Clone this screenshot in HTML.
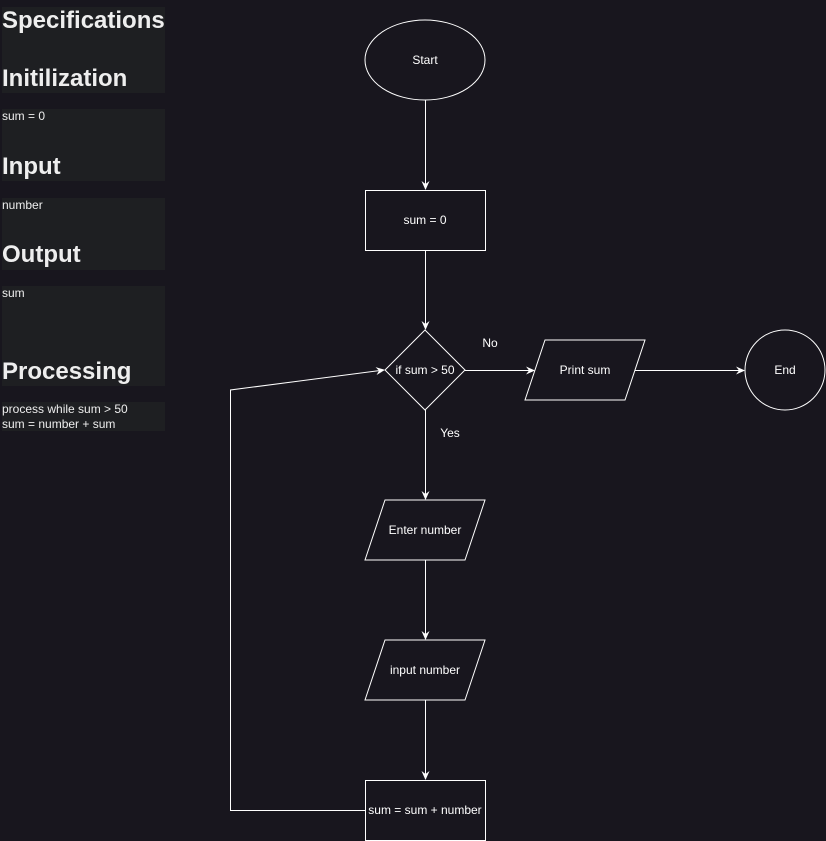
<!DOCTYPE html>
<html><head><style>
body{margin:0;width:826px;height:841px;background:#18161e;overflow:hidden;font-family:"Liberation Sans",sans-serif;}
.p{position:absolute;left:2px;width:163px;background:#1e1f22;color:#eee;}
.h{position:absolute;left:2px;font-weight:bold;font-size:24px;color:#eee;}
.t{position:absolute;left:2px;font-size:12px;color:#eee;line-height:15px;}
</style></head><body>
<div class="p" style="top:7px;height:86px"></div>
<div class="p" style="top:109px;height:72px"></div>
<div class="p" style="top:198px;height:72px"></div>
<div class="p" style="top:286px;height:100px"></div>
<div class="p" style="top:402px;height:29px"></div>
<div class="h" style="top:7px">Specifications</div>
<div class="h" style="top:65px">Initilization</div>
<div class="t" style="top:109px">sum = 0</div>
<div class="h" style="top:153px">Input</div>
<div class="t" style="top:198px">number</div>
<div class="h" style="top:241px">Output</div>
<div class="t" style="top:286px">sum</div>
<div class="h" style="top:358px">Processing</div>
<div class="t" style="top:402px">process while sum &gt; 50<br>sum = number + sum</div>
<svg width="826" height="841" style="position:absolute;left:0;top:0" font-family="Liberation Sans, sans-serif" font-size="12" fill="none" stroke="#fff">
<defs><marker id="a" markerWidth="10" markerHeight="10" refX="8" refY="5" orient="auto" markerUnits="userSpaceOnUse"><path d="M0,1 L9,5 L0,9 L3,5z" fill="#fff" stroke="none"/></marker></defs>
<ellipse cx="425" cy="60" rx="60" ry="40"/>
<rect x="365.5" y="190.5" width="120" height="60"/>
<polygon points="425,330 465,370 425,410 385,370"/>
<polygon points="545,340 645,340 625,400 525,400"/>
<circle cx="785" cy="370" r="40"/>
<polygon points="385,500 485,500 465,560 365,560"/>
<polygon points="385,640 485,640 465,700 365,700"/>
<rect x="365.5" y="780.5" width="120" height="60"/>
<g marker-end="url(#a)">
<line x1="425.5" y1="100" x2="425.5" y2="189"/>
<line x1="425.5" y1="250" x2="425.5" y2="329"/>
<line x1="465" y1="370.5" x2="534" y2="370.5"/>
<line x1="635" y1="370.5" x2="744" y2="370.5"/>
<line x1="425.5" y1="410" x2="425.5" y2="499"/>
<line x1="425.5" y1="560" x2="425.5" y2="639"/>
<line x1="425.5" y1="700" x2="425.5" y2="779"/>
<polyline points="365,810.5 230.5,810.5 230.5,390 384,370"/>
</g>
<g fill="#fff" stroke="none" text-anchor="middle">
<text x="425" y="64">Start</text>
<text x="425" y="224">sum = 0</text>
<text x="425" y="374">if sum &gt; 50</text>
<text x="585" y="374">Print sum</text>
<text x="785" y="374">End</text>
<text x="425" y="534">Enter number</text>
<text x="425" y="674">input number</text>
<text x="425" y="814">sum = sum + number</text>
<text x="490" y="347">No</text>
<text x="450" y="437">Yes</text>
</g>
</svg>
</body></html>
